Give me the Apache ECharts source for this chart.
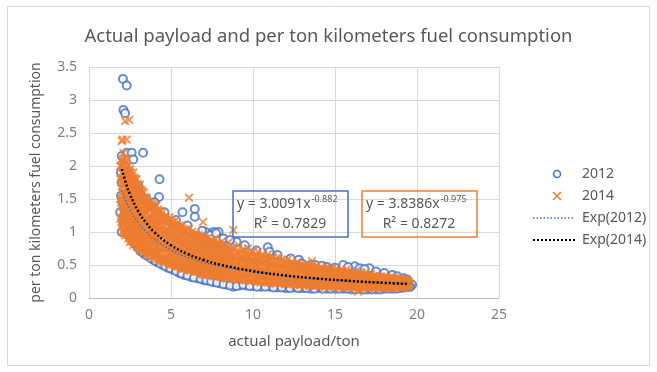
<!DOCTYPE html>
<html><head><meta charset="utf-8">
<script src="https://cdn.jsdelivr.net/npm/echarts@6/dist/echarts.min.js"></script>
<style>html,body{margin:0;padding:0;background:#fff}#c{width:657px;height:372px}</style>
</head><body><div id="c"></div>
<script>
const titleText = 'Actual payload and per ton kilometers fuel consumption';
const xName = 'actual payload/ton';
const yName = 'per ton kilometers fuel consumption';
const xTicks = [0, 5, 10, 15, 20, 25];
const yTicks = [0, 0.5, 1, 1.5, 2, 2.5, 3, 3.5];
const legendNames = ['2012', '2014', 'Exp(2012)', 'Exp(2014)'];
const eq2012 = ['y = 3.0091x', '-0.882', 'R² = 0.7829'];
const eq2014 = ['y = 3.8386x', '-0.975', 'R² = 0.8272'];

const data2012 = [
[2.07,3.32],[2.3,3.22],[2.1,2.85],[2.2,2.8],[3.3,2.2],[4.3,1.8],[4.27,1.53],[5.7,1.3],[6.45,1.35],[6.45,1.23],
[7.6,1.0],[7.9,1.0],[7.3,0.98],[7.1,1.0],[10.9,0.77],[12.8,0.58],[15.5,0.5],[16.2,0.48],[17.1,0.45],[19.7,0.2],[19.6,0.17],
[1.9,1.3],[1.95,1.55],[2.0,1.75],[2.0,2.15],[1.95,1.9],[2.05,1.45],[2.1,1.15],[2.15,2.0],[2.2,1.05],[2.3,2.2],
[2.3,1.08],[2.4,0.95],[2.5,0.98],[2.6,2.2],[2.7,2.1],[2.6,0.9],[2.8,0.82],[2.9,0.85],[3.0,0.76],[3.2,0.7],
[3.4,0.66],[3.7,0.62],[3.9,0.58],[4.2,0.54],[4.5,0.5],[4.8,0.46],[5.1,0.43],[5.5,0.38],[5.8,0.35],[6.2,0.32],
[6.6,0.3],[7.0,0.27],[7.3,0.26],[7.6,0.24],[8.0,0.22],[8.4,0.2],[8.8,0.17],[9.2,0.19],[9.6,0.19],[10.0,0.18],
[10.5,0.17],[11.0,0.17],[11.5,0.16],[12.0,0.15],[12.5,0.16],[13.0,0.15],[13.5,0.14],[14.0,0.15],[14.5,0.14],[15.0,0.14],
[15.5,0.14],[16.0,0.13],[16.5,0.14],[17.0,0.13],[17.5,0.13],[18.0,0.14],[18.5,0.14],[19.0,0.15],[19.5,0.17],
[3.0,1.7],[3.5,1.5],[4.0,1.45],[4.6,1.3],[5.3,1.18],[6.0,1.1],[6.9,1.02],[7.4,0.95],[8.2,0.9],[9.0,0.85],
[9.5,0.8],[10.2,0.72],[11.5,0.65],[12.3,0.6],[13.5,0.5],[14.5,0.47],[15.0,0.46],[16.5,0.45],[17.5,0.4],[18.5,0.35],[19.2,0.3],
[2.0,1.0],[2.2,1.3],[2.5,1.2],[3.0,1.0],[3.5,0.85],[4.0,0.75],[5.0,0.6],[6.0,0.5],[7.0,0.45],[8.0,0.4],[9.0,0.35],
[10.0,0.32],[11.0,0.28],[12.0,0.26],[13.0,0.24],[14.0,0.22],[15.0,0.21],[16.0,0.2],[17.0,0.19],[18.0,0.19],[19.0,0.2]
];

const data2012Rim = [
[2.15,1.1],[2.35,1.02],[2.55,0.92],[2.75,0.84],[3.1,0.74],[3.3,0.69],[3.55,0.64],[3.8,0.6],[4.05,0.56],[4.35,0.52],
[4.65,0.48],[4.95,0.45],[5.3,0.41],[5.65,0.37],[6.0,0.34],[6.4,0.31],[6.8,0.29],[7.15,0.27],[7.45,0.25],[7.8,0.23],
[8.2,0.21],[8.6,0.19],[9.0,0.18],[9.4,0.2],[9.8,0.18],[10.25,0.17],[10.75,0.17],[11.25,0.16],[11.75,0.16],[12.25,0.15],
[12.75,0.15],[13.25,0.15],[13.75,0.14],[14.25,0.14],[14.75,0.14],[15.25,0.14],[15.75,0.14],[16.25,0.13],[16.75,0.13],
[17.25,0.13],[17.75,0.13],[18.25,0.14],[18.75,0.14],[19.25,0.16],
[13.0,0.52],[13.8,0.5],[14.2,0.49],[15.8,0.47],[16.8,0.44],[18.0,0.38],[18.8,0.33],[19.4,0.28],[8.6,0.88],[7.75,0.98],[11.0,0.7]
];

const data2014 = [
[1.9,1.2],[1.9,1.5],[1.9,1.8],[1.9,2.0],
[2.0,1.0],[2.0,1.3],[2.0,1.6],[2.0,1.9],[2.0,2.1],[2.0,2.38],[2.05,2.4],
[2.1,1.1],[2.1,1.4],[2.1,1.7],[2.1,2.0],[2.1,2.2],[2.2,2.68],
[2.2,0.95],[2.2,1.25],[2.2,1.55],[2.2,1.85],[2.2,2.05],[2.3,2.4],[2.45,2.7],
[2.3,1.05],[2.3,1.35],[2.3,1.65],[2.3,1.95],
[2.4,0.9],[2.4,1.2],[2.4,1.5],[2.4,1.8],[2.4,2.0],
[2.5,0.85],[2.5,1.1],[2.5,1.4],[2.5,1.7],[2.5,1.95],
[2.6,0.95],[2.6,1.25],[2.6,1.55],[2.6,1.85],
[2.7,0.8],[2.7,1.05],[2.7,1.35],[2.7,1.65],[2.7,1.9],
[2.8,0.9],[2.8,1.2],[2.8,1.5],[2.8,1.75],
[2.9,0.78],[2.9,1.0],[2.9,1.3],[2.9,1.6],[2.9,1.8],
[3.0,0.85],[3.0,1.1],[3.0,1.4],[3.0,1.7],
[3.1,0.72],[3.1,0.95],[3.1,1.25],[3.1,1.5],[3.1,1.72],
[3.2,0.8],[3.2,1.05],[3.2,1.35],[3.2,1.6],
[3.35,0.7],[3.35,0.9],[3.35,1.15],[3.35,1.4],[3.35,1.6],
[3.5,0.65],[3.5,0.85],[3.5,1.05],[3.5,1.3],[3.5,1.52],
[3.65,0.75],[3.65,0.98],[3.65,1.2],[3.65,1.45],
[3.8,0.62],[3.8,0.82],[3.8,1.05],[3.8,1.28],[3.8,1.45],
[3.95,0.7],[3.95,0.92],[3.95,1.15],[3.95,1.38],
[4.1,0.58],[4.1,0.78],[4.1,1.0],[4.1,1.22],[4.1,1.4],
[4.3,0.66],[4.3,0.88],[4.3,1.1],[4.3,1.3],
[4.5,0.55],[4.5,0.74],[4.5,0.95],[4.5,1.15],[4.5,1.3],
[4.7,0.62],[4.7,0.82],[4.7,1.02],[4.7,1.22],
[4.9,0.5],[4.9,0.68],[4.9,0.9],[4.9,1.1],[4.9,1.22],
[5.1,0.58],[5.1,0.78],[5.1,0.98],[5.1,1.15],
[5.3,0.48],[5.3,0.65],[5.3,0.85],[5.3,1.05],[5.3,1.18],
[5.5,0.55],[5.5,0.74],[5.5,0.92],[5.5,1.1],
[5.7,0.44],[5.7,0.62],[5.7,0.8],[5.7,0.98],[5.7,1.1],
[5.9,0.52],[5.9,0.7],[5.9,0.88],[5.9,1.04],
[6.1,0.42],[6.1,0.58],[6.1,0.76],[6.1,0.94],[6.1,1.05],[6.1,1.52],
[6.3,0.48],[6.3,0.66],[6.3,0.84],[6.3,1.0],
[6.5,0.4],[6.5,0.55],[6.5,0.72],[6.5,0.9],[6.5,0.98],
[6.7,0.46],[6.7,0.62],[6.7,0.8],[6.7,0.95],
[6.9,0.36],[6.9,0.52],[6.9,0.68],[6.9,0.85],[6.9,0.96],[6.95,1.15],
[7.1,0.42],[7.1,0.58],[7.1,0.75],[7.1,0.9],
[7.3,0.35],[7.3,0.5],[7.3,0.65],[7.3,0.8],[7.3,0.92],
[7.5,0.4],[7.5,0.56],[7.5,0.72],[7.5,0.86],
[7.7,0.33],[7.7,0.46],[7.7,0.62],[7.7,0.78],[7.7,0.9],
[7.9,0.38],[7.9,0.53],[7.9,0.68],[7.9,0.82],
[8.1,0.32],[8.1,0.45],[8.1,0.6],[8.1,0.75],[8.1,0.86],
[8.3,0.36],[8.3,0.5],[8.3,0.65],[8.3,0.8],
[8.5,0.3],[8.5,0.43],[8.5,0.57],[8.5,0.72],[8.5,0.84],
[8.8,0.35],[8.8,0.48],[8.8,0.62],[8.8,0.76],[8.8,1.03],
[9.1,0.28],[9.1,0.4],[9.1,0.54],[9.1,0.68],[9.1,0.8],
[9.4,0.33],[9.4,0.46],[9.4,0.6],[9.4,0.74],
[9.7,0.27],[9.7,0.38],[9.7,0.5],[9.7,0.63],[9.7,0.75],
[10.0,0.3],[10.0,0.43],[10.0,0.56],[10.0,0.7],
[10.3,0.25],[10.3,0.36],[10.3,0.48],[10.3,0.6],[10.3,0.7],
[10.6,0.29],[10.6,0.41],[10.6,0.53],[10.6,0.66],
[10.9,0.24],[10.9,0.34],[10.9,0.45],[10.9,0.56],[10.9,0.66],
[11.2,0.27],[11.2,0.38],[11.2,0.5],[11.2,0.62],
[11.5,0.23],[11.5,0.32],[11.5,0.43],[11.5,0.54],[11.5,0.62],
[11.8,0.26],[11.8,0.36],[11.8,0.47],[11.8,0.58],
[12.1,0.22],[12.1,0.31],[12.1,0.41],[12.1,0.51],[12.1,0.58],
[12.4,0.25],[12.4,0.34],[12.4,0.44],[12.4,0.54],
[12.7,0.21],[12.7,0.29],[12.7,0.38],[12.7,0.48],[12.7,0.55],
[13.0,0.24],[13.0,0.32],[13.0,0.42],[13.0,0.51],
[13.3,0.2],[13.3,0.28],[13.3,0.36],[13.3,0.45],[13.3,0.52],
[13.6,0.23],[13.6,0.31],[13.6,0.4],[13.6,0.48],[13.6,0.56],
[13.9,0.19],[13.9,0.27],[13.9,0.35],[13.9,0.43],[13.9,0.49],
[14.2,0.22],[14.2,0.3],[14.2,0.38],[14.2,0.46],
[14.5,0.18],[14.5,0.26],[14.5,0.33],[14.5,0.41],[14.5,0.47],
[14.8,0.21],[14.8,0.29],[14.8,0.36],[14.8,0.44],
[15.1,0.18],[15.1,0.25],[15.1,0.32],[15.1,0.39],[15.1,0.45],
[15.4,0.2],[15.4,0.27],[15.4,0.35],[15.4,0.42],
[15.7,0.17],[15.7,0.24],[15.7,0.31],[15.7,0.38],[15.7,0.43],
[16.0,0.19],[16.0,0.26],[16.0,0.33],[16.0,0.4],
[16.3,0.17],[16.3,0.23],[16.3,0.3],[16.3,0.36],[16.3,0.41],[16.4,0.1],
[16.6,0.19],[16.6,0.25],[16.6,0.32],[16.6,0.38],
[16.9,0.16],[16.9,0.22],[16.9,0.29],[16.9,0.35],[16.9,0.39],
[17.2,0.18],[17.2,0.24],[17.2,0.3],[17.2,0.36],
[17.5,0.16],[17.5,0.21],[17.5,0.28],[17.5,0.34],
[17.8,0.18],[17.8,0.23],[17.8,0.29],[17.8,0.33],
[18.1,0.16],[18.1,0.21],[18.1,0.27],[18.1,0.32],
[18.4,0.17],[18.4,0.22],[18.4,0.27],[18.4,0.31],
[18.7,0.16],[18.7,0.21],[18.7,0.26],[18.7,0.3],
[19.0,0.17],[19.0,0.21],[19.0,0.25],[19.0,0.29],
[19.3,0.18],[19.3,0.22],[19.3,0.26],
[19.5,0.2],[19.5,0.24]
];

const data2014Core = [
[2.05,1.15],[2.05,1.45],[2.05,1.75],[2.05,2.0],[2.15,1.0],[2.15,1.3],[2.15,1.6],[2.15,1.9],
[2.25,1.15],[2.25,1.45],[2.25,1.75],[2.25,2.1],[2.35,0.98],[2.35,1.28],[2.35,1.58],[2.35,1.88],
[2.45,1.05],[2.45,1.35],[2.45,1.65],[2.45,1.9],[2.55,0.92],[2.55,1.2],[2.55,1.5],[2.55,1.8],
[2.65,0.88],[2.65,1.15],[2.65,1.45],[2.65,1.75],[2.75,0.95],[2.75,1.25],[2.75,1.55],[2.75,1.8],
[2.85,0.85],[2.85,1.1],[2.85,1.4],[2.85,1.65],[2.95,0.9],[2.95,1.18],[2.95,1.48],[2.95,1.7],
[3.05,0.78],[3.05,1.0],[3.05,1.3],[3.05,1.55],[3.15,0.85],[3.15,1.12],[3.15,1.4],[3.15,1.62],
[3.27,0.75],[3.27,0.98],[3.27,1.25],[3.27,1.5],[3.42,0.78],[3.42,1.02],[3.42,1.28],[3.42,1.5],
[3.57,0.72],[3.57,0.95],[3.57,1.18],[3.57,1.4],[3.72,0.68],[3.72,0.9],[3.72,1.12],[3.72,1.36],
[3.87,0.72],[3.87,0.95],[3.87,1.18],[3.87,1.4],[4.02,0.64],[4.02,0.85],[4.02,1.08],[4.02,1.3],
[4.2,0.68],[4.2,0.9],[4.2,1.12],[4.2,1.32],[4.4,0.6],[4.4,0.8],[4.4,1.02],[4.4,1.22],
[4.6,0.58],[4.6,0.78],[4.6,0.98],[4.6,1.18],[4.8,0.56],[4.8,0.75],[4.8,0.96],[4.8,1.15],
[5.0,0.53],[5.0,0.72],[5.0,0.92],[5.0,1.1],[5.2,0.52],[5.2,0.7],[5.2,0.9],[5.2,1.08],
[5.4,0.5],[5.4,0.68],[5.4,0.88],[5.4,1.05],[5.6,0.48],[5.6,0.66],[5.6,0.84],[5.6,1.02],
[5.8,0.47],[5.8,0.64],[5.8,0.82],[5.8,1.0],[6.0,0.45],[6.0,0.62],[6.0,0.8],[6.0,0.98],
[6.2,0.44],[6.2,0.6],[6.2,0.78],[6.2,0.95],[6.4,0.43],[6.4,0.58],[6.4,0.76],[6.4,0.93],
[6.6,0.42],[6.6,0.57],[6.6,0.74],[6.6,0.9],[6.8,0.4],[6.8,0.55],[6.8,0.72],[6.8,0.88],
[7.0,0.38],[7.0,0.53],[7.0,0.69],[7.0,0.86],[7.2,0.38],[7.2,0.52],[7.2,0.67],[7.2,0.83],
[7.4,0.37],[7.4,0.5],[7.4,0.65],[7.4,0.82],[7.6,0.36],[7.6,0.49],[7.6,0.64],[7.6,0.8],
[7.8,0.35],[7.8,0.48],[7.8,0.62],[7.8,0.78],[8.0,0.34],[8.0,0.47],[8.0,0.6],[8.0,0.76],
[8.2,0.33],[8.2,0.46],[8.2,0.59],[8.2,0.74],[8.4,0.32],[8.4,0.45],[8.4,0.58],[8.4,0.73],
[8.65,0.31],[8.65,0.44],[8.65,0.56],[8.65,0.7],[8.95,0.31],[8.95,0.43],[8.95,0.55],[8.95,0.68],
[9.25,0.3],[9.25,0.41],[9.25,0.53],[9.25,0.66],[9.55,0.29],[9.55,0.4],[9.55,0.52],[9.55,0.65],
[9.85,0.28],[9.85,0.39],[9.85,0.5],[9.85,0.63],[10.15,0.27],[10.15,0.38],[10.15,0.49],[10.15,0.62],
[10.45,0.26],[10.45,0.37],[10.45,0.48],[10.45,0.6],[10.75,0.26],[10.75,0.36],[10.75,0.47],[10.75,0.58],
[11.05,0.25],[11.05,0.35],[11.05,0.45],[11.05,0.56],[11.35,0.24],[11.35,0.34],[11.35,0.44],[11.35,0.55],
[11.65,0.24],[11.65,0.33],[11.65,0.43],[11.65,0.53],[11.95,0.23],[11.95,0.32],[11.95,0.42],[11.95,0.52],
[12.25,0.23],[12.25,0.31],[12.25,0.4],[12.25,0.5],[12.55,0.22],[12.55,0.3],[12.55,0.39],[12.55,0.48],
[12.85,0.22],[12.85,0.29],[12.85,0.38],[12.85,0.47],[13.15,0.21],[13.15,0.28],[13.15,0.37],[13.15,0.46],
[13.45,0.21],[13.45,0.28],[13.45,0.36],[13.45,0.44],[13.75,0.2],[13.75,0.27],[13.75,0.35],[13.75,0.43],
[14.05,0.2],[14.05,0.26],[14.05,0.34],[14.05,0.42],[14.35,0.19],[14.35,0.26],[14.35,0.33],[14.35,0.41],
[14.65,0.19],[14.65,0.25],[14.65,0.32],[14.65,0.4],[14.95,0.19],[14.95,0.25],[14.95,0.31],[14.95,0.38],
[15.25,0.18],[15.25,0.24],[15.25,0.3],[15.25,0.37],[15.55,0.18],[15.55,0.24],[15.55,0.3],[15.55,0.36],
[15.85,0.18],[15.85,0.23],[15.85,0.29],[15.85,0.35],[16.15,0.17],[16.15,0.23],[16.15,0.28],[16.15,0.34],
[16.45,0.17],[16.45,0.22],[16.45,0.28],[16.45,0.33],[16.75,0.17],[16.75,0.22],[16.75,0.27],[16.75,0.32],
[17.05,0.17],[17.05,0.21],[17.05,0.26],[17.05,0.31],[17.35,0.17],[17.35,0.21],[17.35,0.26],[17.35,0.31],
[17.65,0.17],[17.65,0.21],[17.65,0.25],[17.65,0.3],[17.95,0.17],[17.95,0.2],[17.95,0.25],[17.95,0.29],
[18.25,0.17],[18.25,0.2],[18.25,0.24],[18.25,0.28],[18.55,0.17],[18.55,0.2],[18.55,0.24],[18.55,0.28],
[18.85,0.18],[18.85,0.21],[18.85,0.24],[18.85,0.27],[19.15,0.18],[19.15,0.21],[19.15,0.24],[19.15,0.27],
[19.4,0.19],[19.4,0.22],[19.4,0.25]
];

const trend2012 = [[2,1.633],[2.25,1.472],[2.5,1.341],[3,1.142],[3.5,0.997],[4,0.886],[5,0.728],[6,0.620],[7,0.541],[8,0.481],[10,0.395],[12,0.336],[14,0.293],[16,0.261],[18,0.235],[19.7,0.217]];
const trend2014 = [[2,1.953],[2.25,1.741],[2.5,1.571],[3,1.315],[3.5,1.132],[4,0.993],[5,0.799],[6,0.669],[7,0.576],[8,0.505],[10,0.407],[12,0.340],[14,0.293],[16,0.257],[18,0.229],[19.5,0.212]];

const BLUE = '#4472C4', ORANGE = '#ED7D31';
const FONT = '"Noto Sans", "Open Sans", sans-serif';
const XPATH = 'path://M1.5,0L5,3.5L8.5,0L10,1.5L6.5,5L10,8.5L8.5,10L5,6.5L1.5,10L0,8.5L3.5,5L0,1.5Z';
const XPATH_BOLD = 'path://M2.5,0L5,2.5L7.5,0L10,2.5L7.5,5L10,7.5L7.5,10L5,7.5L2.5,10L0,7.5L2.5,5L0,2.5Z';

const chart = echarts.init(document.getElementById('c'), null, {renderer: 'canvas'});

function eqText(eq, x, y, color) {
  return [
    {type: 'rect', shape: {x: x, y: y, width: 115, height: 46}, style: {fill: 'transparent', stroke: color, lineWidth: 1.5}, z: 10},
    {type: 'text', x: x + 4, y: y + 13, style: {
      text: '{a|' + eq[0] + '}{s|' + eq[1] + '}', verticalAlign: 'middle',
      rich: {a: {fontSize: 14, fontFamily: FONT, fill: '#595959'}, s: {fontSize: 9, fontFamily: FONT, fill: '#595959', padding: [0,0,9,1]}}
    }, z: 11},
    {type: 'text', x: x + 57, y: y + 33, style: {text: eq[2], fontSize: 14, fontFamily: FONT, fill: '#595959', align: 'center', verticalAlign: 'middle'}, z: 11}
  ];
}

const LX = 557, LT = 582, LY = [174, 196, 218, 240];
const graphics = [
  {type: 'rect', shape: {x: 7.5, y: 6.5, width: 642, height: 359}, style: {fill: 'transparent', stroke: '#d9d9d9', lineWidth: 1}, z: -1},
  {type: 'circle', shape: {cx: LX, cy: LY[0], r: 3.5}, style: {fill: 'transparent', stroke: BLUE, lineWidth: 1.5}},
  {type: 'line', shape: {x1: LX - 4, y1: LY[1] - 4, x2: LX + 4, y2: LY[1] + 4}, style: {stroke: ORANGE, lineWidth: 1.6}},
  {type: 'line', shape: {x1: LX - 4, y1: LY[1] + 4, x2: LX + 4, y2: LY[1] - 4}, style: {stroke: ORANGE, lineWidth: 1.6}},
  {type: 'line', shape: {x1: 533, y1: LY[2], x2: 575, y2: LY[2]}, style: {stroke: BLUE, lineWidth: 1.5, lineDash: [1.5, 2]}},
  {type: 'line', shape: {x1: 533, y1: LY[3], x2: 575, y2: LY[3]}, style: {stroke: '#000', lineWidth: 2, lineDash: [2, 2]}}
].concat(legendNames.map((n, i) => ({type: 'text', x: LT, y: LY[i], style: {text: n, fontSize: 14, fontFamily: FONT, fill: '#595959', verticalAlign: 'middle'}})))
 .concat(eqText(eq2012, 233, 191, BLUE))
 .concat(eqText(eq2014, 362, 191, ORANGE));

chart.setOption({
  animation: false,
  backgroundColor: '#fff',
  title: {text: titleText, left: 'center', top: 22, textStyle: {fontSize: 18.5, fontWeight: 'normal', color: '#595959', fontFamily: FONT}},
  grid: {left: 89, right: 158, top: 67, bottom: 74},
  xAxis: {
    type: 'value', min: xTicks[0], max: xTicks[xTicks.length - 1], interval: 5,
    name: xName, nameLocation: 'middle', nameGap: 36,
    nameTextStyle: {fontSize: 15, color: '#595959', fontFamily: FONT},
    axisLine: {show: true, lineStyle: {color: '#bfbfbf'}}, axisTick: {show: false},
    axisLabel: {fontSize: 14, color: '#7f7f7f', fontFamily: FONT, margin: 10},
    splitLine: {show: true, lineStyle: {color: '#d9d9d9'}}
  },
  yAxis: {
    type: 'value', min: yTicks[0], max: yTicks[yTicks.length - 1], interval: 0.5,
    name: yName, nameLocation: 'middle', nameGap: 46,
    nameTextStyle: {fontSize: 14, color: '#595959', fontFamily: FONT},
    axisLine: {show: false}, axisTick: {show: false},
    axisLabel: {fontSize: 14, color: '#7f7f7f', fontFamily: FONT, margin: 12},
    splitLine: {show: true, lineStyle: {color: '#d9d9d9'}}
  },
  series: [
    {name: '2012', type: 'scatter', data: data2012.concat(data2012Rim), symbol: 'emptyCircle', symbolSize: 8,
     itemStyle: {color: BLUE, borderColor: BLUE, borderWidth: 1.5}, z: 2},
    {name: '2014', type: 'scatter', data: data2014Core, symbol: XPATH_BOLD, symbolSize: 12,
     itemStyle: {color: ORANGE}, z: 3},
    {name: '2014', type: 'scatter', data: data2014, symbol: XPATH, symbolSize: 9,
     itemStyle: {color: ORANGE}, z: 3},
    {name: 'Exp(2012)', type: 'line', data: trend2012, smooth: true, showSymbol: false,
     lineStyle: {color: BLUE, width: 1.5, type: [1.5, 2]}, z: 4},
    {name: 'Exp(2014)', type: 'line', data: trend2014, smooth: true, showSymbol: false,
     lineStyle: {color: '#000', width: 2.5, type: [2, 2]}, z: 5}
  ],
  graphic: graphics
});
</script></body></html>
